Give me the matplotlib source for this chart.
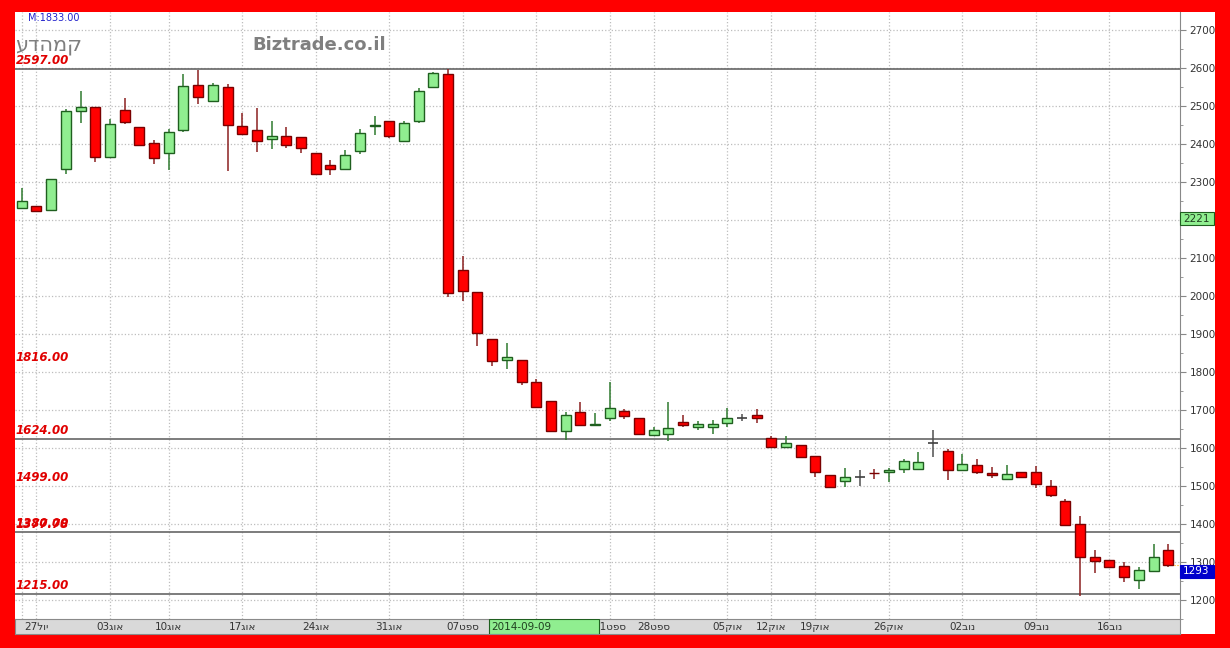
import matplotlib
matplotlib.use("Agg")
import matplotlib.pyplot as plt
from matplotlib.patches import Rectangle
from matplotlib.ticker import MultipleLocator
import matplotlib.transforms as mtransforms
import numpy as np

# ------------------------------------------
# Data (daily candles)
# ------------------------------------------
opens = [2232, 2238, 2226, 2333, 2486, 2498, 2367, 2489, 2445, 2402,
         2377, 2437, 2554, 2512, 2549, 2447, 2438, 2413, 2420, 2418,
         2377, 2344, 2333, 2382, 2447, 2461, 2408, 2461, 2549, 2583,
         2068, 2010, 1887, 1831, 1832, 1775, 1723, 1646, 1695, 1660,
         1678, 1697, 1680, 1635, 1636, 1668, 1656, 1656, 1667, 1680,
         1688, 1626, 1602, 1607, 1579, 1530, 1512, 1525, 1534, 1536,
         1544, 1546, 1613, 1593, 1543, 1554, 1533, 1519, 1537, 1537,
         1500, 1461, 1401, 1313, 1304, 1290, 1252, 1276, 1331]
highs = [2285, 2238, 2307, 2491, 2539, 2498, 2465, 2521, 2445, 2411,
         2439, 2583, 2595, 2561, 2557, 2481, 2494, 2460, 2445, 2418,
         2377, 2358, 2383, 2440, 2474, 2461, 2460, 2547, 2590, 2597,
         2105, 2010, 1887, 1877, 1832, 1781, 1723, 1694, 1721, 1693,
         1775, 1703, 1680, 1656, 1720, 1687, 1671, 1674, 1704, 1689,
         1702, 1632, 1632, 1607, 1579, 1530, 1547, 1542, 1545, 1548,
         1571, 1590, 1647, 1597, 1584, 1571, 1549, 1554, 1537, 1553,
         1515, 1465, 1421, 1332, 1304, 1301, 1286, 1347, 1347]
lows = [2230, 2222, 2224, 2322, 2454, 2353, 2367, 2452, 2395, 2347,
        2332, 2431, 2505, 2512, 2329, 2426, 2380, 2386, 2389, 2376,
        2319, 2318, 2333, 2374, 2423, 2415, 2408, 2456, 2549, 1998,
        1988, 1869, 1816, 1807, 1765, 1708, 1645, 1621, 1660, 1660,
        1671, 1676, 1635, 1635, 1618, 1656, 1647, 1638, 1656, 1671,
        1667, 1602, 1602, 1575, 1525, 1497, 1497, 1500, 1518, 1510,
        1533, 1546, 1577, 1516, 1543, 1532, 1521, 1519, 1524, 1496,
        1470, 1397, 1210, 1272, 1283, 1247, 1229, 1276, 1286]
closes = [2249, 2225, 2307, 2487, 2498, 2367, 2453, 2459, 2398, 2364,
          2431, 2552, 2525, 2554, 2449, 2426, 2409, 2420, 2397, 2389,
          2321, 2333, 2370, 2428, 2450, 2422, 2455, 2539, 2588, 2007,
          2012, 1903, 1828, 1840, 1773, 1708, 1645, 1687, 1660, 1663,
          1706, 1683, 1638, 1647, 1653, 1661, 1663, 1663, 1680, 1680,
          1679, 1602, 1612, 1577, 1536, 1497, 1525, 1525, 1533, 1542,
          1566, 1563, 1613, 1543, 1557, 1536, 1529, 1531, 1524, 1505,
          1477, 1397, 1312, 1303, 1286, 1261, 1279, 1312, 1293]

# horizontal levels (solid lines) and level labels
line_levels = [2597, 1624, 1380, 1215]
label_levels = [2597, 1816, 1624, 1499, 1380, 1377.78, 1215]

# week start positions (candle index) and their labels (visual order)
# (the 14 Sep label sits under the cursor date box and is not shown)
week_idx = [1, 6, 10, 15, 20, 25, 30, 40, 43, 48, 51, 54, 59, 64, 69, 74]
week_lbl = ["27לוי", "03גוא", "10גוא", "17גוא", "24גוא", "31גוא", "07טפס",
            "21טפס", "28טפס", "05קוא", "12קוא", "19קוא", "26קוא",
            "02בונ", "09בונ", "16בונ"]
grid_idx = [0, 1, 6, 10, 15, 20, 25, 30, 35, 40, 43, 48, 51, 54, 59, 64, 69, 74]

price_ticks = [1200, 1300, 1400, 1500, 1600, 1700, 1800, 1900, 2000,
               2100, 2200, 2300, 2400, 2500, 2600, 2700]

last_price = 1293
mark_price = 2221
cursor_date = "2014-09-09"
name = "עדהמק"
site = "Biztrade.co.il"
top_note = "M:1833.00"

# ------------------------------------------
# Figure / layout (pixel based)
# ------------------------------------------
W, H = 1230, 648
fig = plt.figure(figsize=(W / 100, H / 100), dpi=100, facecolor="#ff0000")

def fx(px):
    return px / W

def fy(py):
    return (H - py) / H

# white panel
fig.add_artist(Rectangle((fx(15), fy(634)), fx(1200), 622 / H,
                         transform=fig.transFigure, facecolor="white",
                         edgecolor="none", zorder=-1))

L, R, T, B = 15, 1180, 12, 619
ax = fig.add_axes([fx(L), fy(B), fx(R - L), (B - T) / H])
ax.set_facecolor("white")

x = np.arange(len(closes))
ax.set_xlim(-0.46, 78.8)
ax.set_ylim(1150, 2747.4)

# grid + right price axis (2200 is covered by the 2221 marker box)
ax.set_yticks(price_ticks)
ax.set_yticklabels(["" if p == 2200 else str(p) for p in price_ticks])
ax.yaxis.set_minor_locator(MultipleLocator(50))
ax.set_xticks(grid_idx)
ax.grid(True, which="major", linestyle=":", color="#bdbdbd", linewidth=0.9)
ax.set_axisbelow(True)
ax.tick_params(axis="x", length=0, labelbottom=False)
ax.yaxis.tick_right()
ax.tick_params(axis="y", which="major", direction="out", length=4,
               color="#888888", labelsize=7.5, labelcolor="#333333", pad=3)
ax.tick_params(axis="y", which="minor", direction="out", length=2,
               color="#888888")
for s in ["top", "left", "bottom"]:
    ax.spines[s].set_visible(False)
ax.spines["right"].set_color("#888888")

# horizontal level lines
for lv in line_levels:
    ax.axhline(lv, color="#666666", linewidth=1.2, zorder=2)
for lv in label_levels:
    ax.text(0.0005, lv + 5, f"{lv:.2f}", transform=ax.get_yaxis_transform(),
            ha="left", va="bottom", color="#e00000", fontsize=8.5,
            style="italic", fontweight="bold", zorder=5)

# candles
o = np.array(opens, float)
c = np.array(closes, float)
h = np.array(highs, float)
lo = np.array(lows, float)
up = c > o
dn = c < o
eq = c == o

wick_col = np.where(up, "#2f7a2f", np.where(dn, "#8b2020", "#505050"))
ax.vlines(x, lo, h, colors=wick_col, linewidth=1.1, zorder=3)

bw = 0.68
body_lo = np.minimum(o, c)
body_h = np.maximum(np.abs(c - o), 2.0)
ax.bar(x[up], body_h[up], bottom=body_lo[up], width=bw, color="#90ee90",
       edgecolor="#1f5f1f", linewidth=1.0, zorder=4)
ax.bar(x[dn], body_h[dn], bottom=body_lo[dn], width=bw, color="#ff0000",
       edgecolor="#7a0000", linewidth=1.0, zorder=4)
ax.hlines(o[eq], x[eq] - bw / 2, x[eq] + bw / 2, colors="#404040",
          linewidth=1.2, zorder=4)

# last price dotted marker
ax.hlines(last_price, x[-1] + 0.4, 78.8, colors="orange", linestyles=":",
          linewidth=0.8, zorder=2)

# right axis price boxes
trans = mtransforms.blended_transform_factory(ax.transAxes, ax.transData)
box_w = 34 / (R - L)
box_h = 13 / 0.38
for price, fc, ec, tc in [(mark_price, "#90ee90", "#1f5f1f", "#1f3f1f"),
                          (last_price, "#0000cc", "#0000cc", "white")]:
    ax.add_patch(Rectangle((1.0, price - box_h), box_w, box_h, transform=trans,
                           facecolor=fc, edgecolor=ec, linewidth=0.8,
                           clip_on=False, zorder=6))
    ax.text(1.0 + 3 / (R - L), price - box_h / 2, str(price), transform=trans,
            ha="left", va="center", fontsize=7.5, color=tc, clip_on=False,
            zorder=7)

# ------------------------------------------
# Date strip
# ------------------------------------------
axd = fig.add_axes([fx(L), fy(634), fx(R - L), 15 / H])
axd.set_facecolor("#d9d9d9")
axd.set_xlim(ax.get_xlim())
axd.set_ylim(0, 1)
axd.set_xticks([])
axd.set_yticks([])
for s in axd.spines.values():
    s.set_color("#8a8a8a")
for xi, lb in zip(week_idx, week_lbl):
    axd.text(xi, 0.45, lb, ha="center", va="center", fontsize=7.5,
             color="#333333")
axd.add_patch(Rectangle((31.8, 0.02), 7.5, 0.96, facecolor="#90ee90",
                        edgecolor="#1f5f1f", linewidth=0.8, zorder=5))
axd.text(31.95, 0.45, cursor_date, ha="left", va="center", fontsize=7.5,
         color="#1f3f1f", zorder=6)

# ------------------------------------------
# Header texts
# ------------------------------------------
fig.text(fx(28), fy(18), top_note, ha="left", va="center", fontsize=7,
         color="#2222cc")
fig.text(fx(15), fy(45), name, ha="left", va="center", fontsize=15,
         color="#7f7f7f")
fig.text(fx(252), fy(45), site, ha="left", va="center", fontsize=13,
         fontweight="bold", color="#7f7f7f")

fig.savefig("out.png", dpi=100, facecolor=fig.get_facecolor())
